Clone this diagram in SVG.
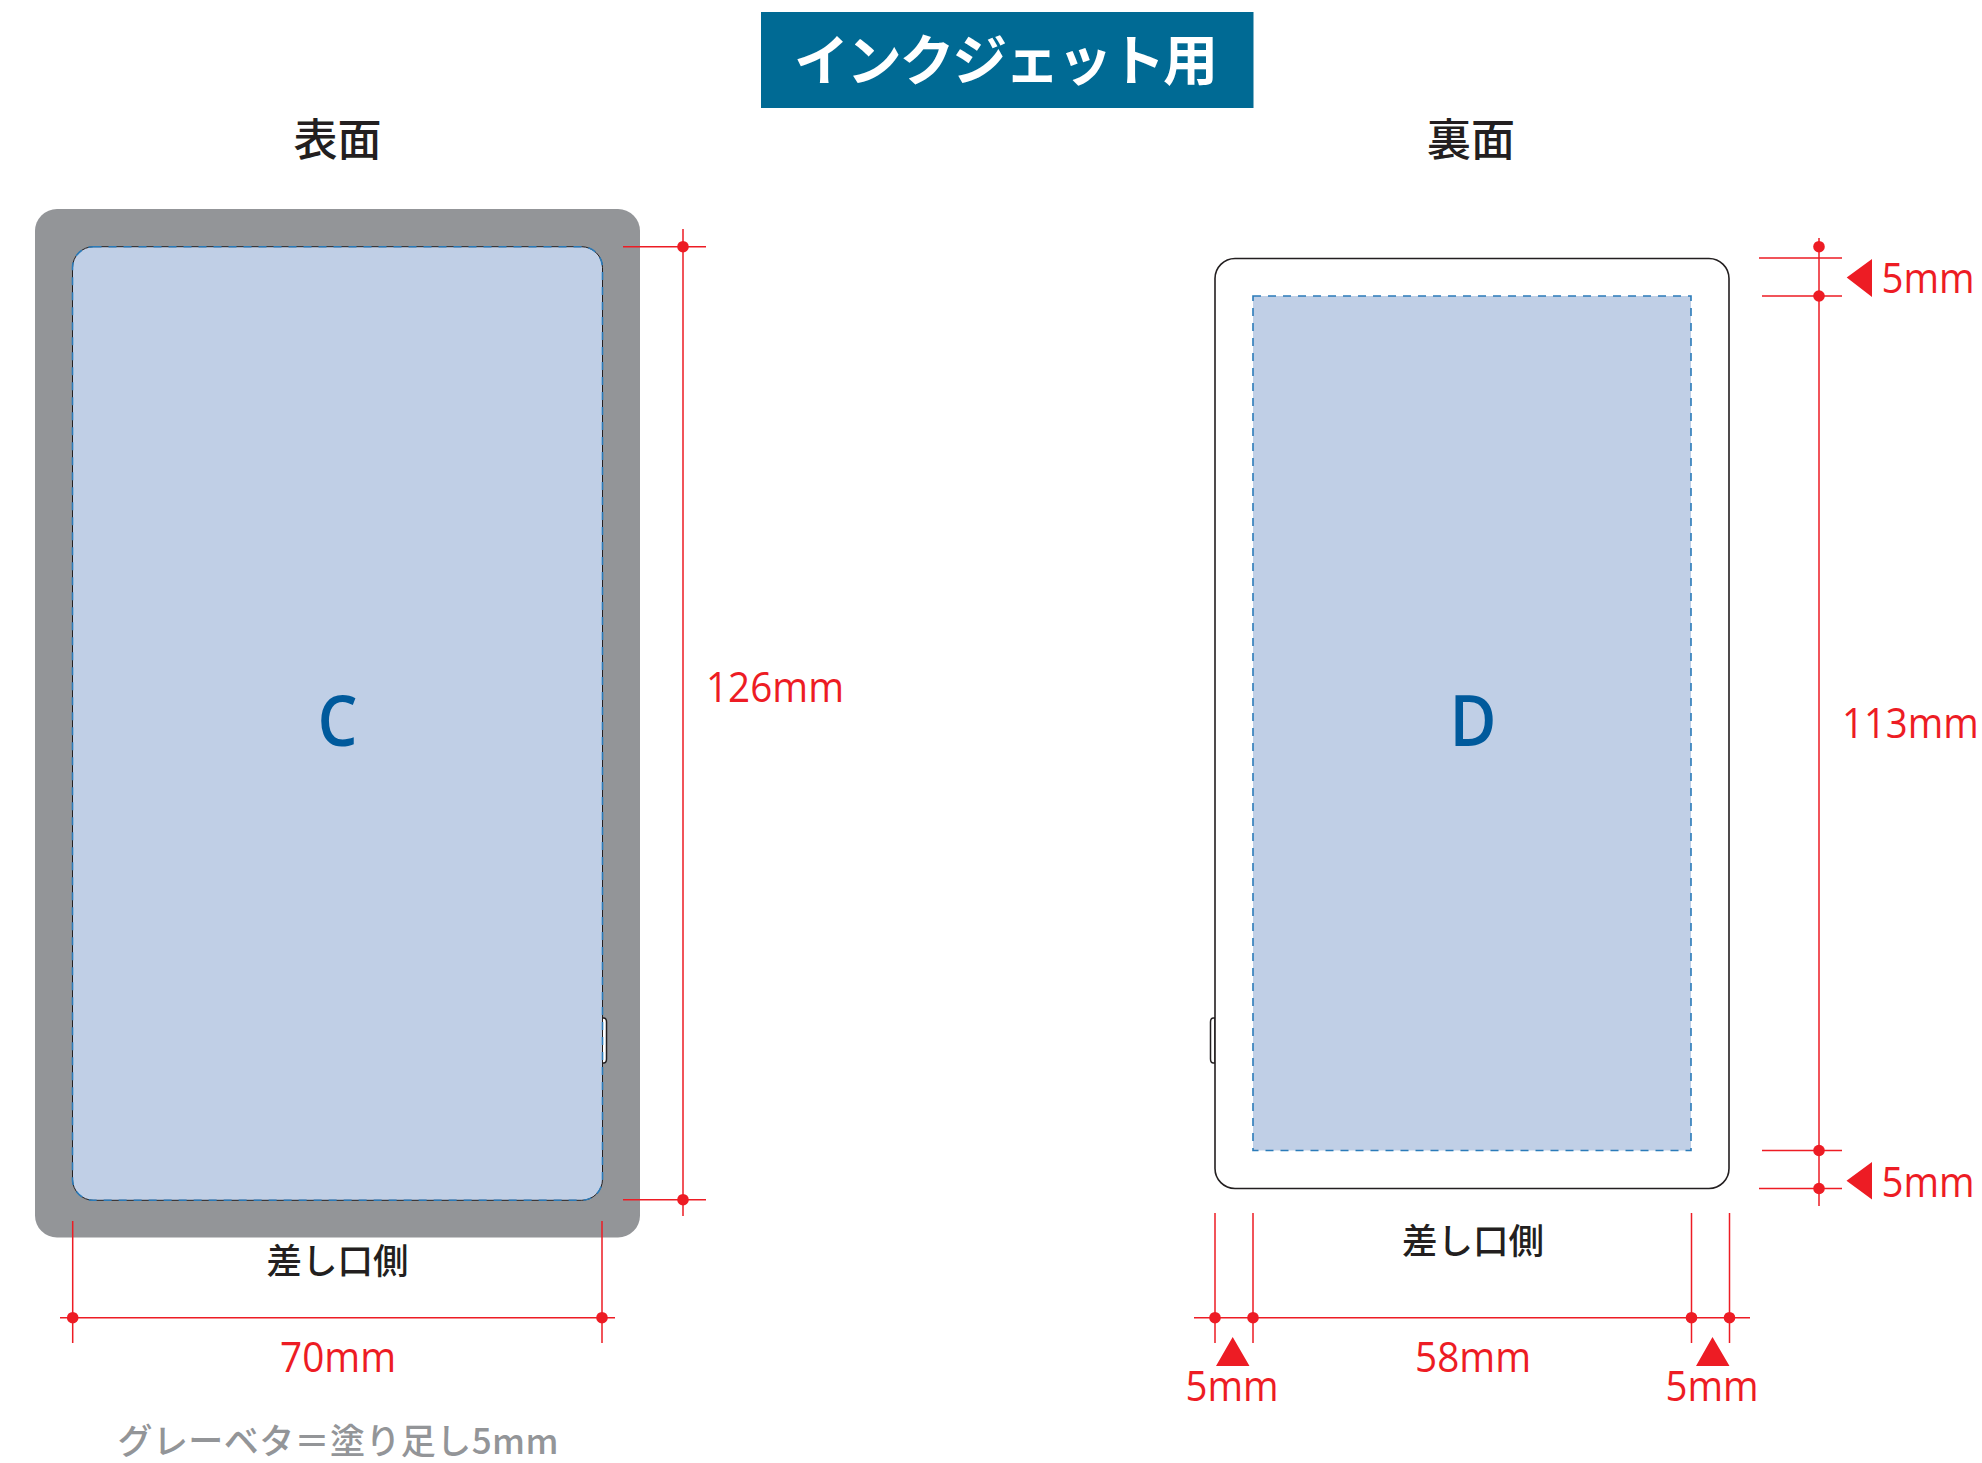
<svg xmlns="http://www.w3.org/2000/svg" width="1982" height="1463" viewBox="0 0 1982 1463">
<style>
.jp{font-family:"Noto Sans CJK JP","Noto Sans",sans-serif;font-weight:500;fill:#231f20;text-anchor:middle}
.dim{font-family:"Open Sans","Liberation Sans",sans-serif;font-size:42px;fill:#ed1c24}
.big{font-family:"Open Sans","Liberation Sans",sans-serif;font-size:70px;font-weight:600;fill:#005a9c;text-anchor:middle}
.ln{stroke:#ed1c24;stroke-width:1.5;fill:none}
.dot{fill:#ed1c24}
.tri{fill:#ed1c24}
.area{fill:#c0cfe6}
.dash{fill:none;stroke:#2b7bb9;stroke-width:1.6;stroke-dasharray:8 7}
</style>
<g id="title">
<rect x="761" y="12" width="492.500" height="96" fill="#006a94"/>
<text x="1006" y="80" text-anchor="middle" font-family="'Noto Sans CJK JP',sans-serif" font-weight="700" font-size="55" fill="#fff" textLength="424" lengthAdjust="spacing">インクジェット用</text>
</g>
<g id="front">
<text class="jp" x="337.500" y="155.500" font-size="44">表面</text>
<rect x="35" y="209" width="605" height="1028.500" rx="22" fill="#939598"/>
<path d="M602 1018h1.500q3 0 3 4v37q0 4-3 4h-1.500z" fill="#fff" stroke="#231f20" stroke-width="1.500"/>
<rect class="area" x="72.500" y="246.700" width="530" height="953.600" rx="21" stroke="#231f20" stroke-width="1"/>
<rect class="dash" x="72.500" y="246.700" width="530" height="953.600" rx="21"/>
<text class="big" x="337.500" y="746" textLength="40" lengthAdjust="spacingAndGlyphs">C</text>
<text class="jp" x="337.500" y="1274" font-size="35.500">差し口側</text>
<text x="338" y="1454" text-anchor="middle" font-family="'Noto Sans CJK JP',sans-serif" font-weight="500" font-size="35" fill="#939598" textLength="441" lengthAdjust="spacing">グレーベタ＝塗り足し5mm</text>
</g>
<g id="back">
<text class="jp" x="1471" y="155.500" font-size="44">裏面</text>
<path d="M1215 1018h-1.500q-3 0-3 4v37q0 4 3 4h1.500z" fill="#fff" stroke="#231f20" stroke-width="1.500"/>
<rect x="1215" y="258.500" width="514" height="930" rx="20" fill="#fff" stroke="#231f20" stroke-width="1.600"/>
<rect class="area" x="1253" y="296" width="438" height="854.500"/>
<rect class="dash" x="1253" y="296" width="438" height="854.500"/>
<text class="big" x="1473" y="746" textLength="47" lengthAdjust="spacingAndGlyphs">D</text>
<text class="jp" x="1473" y="1254" font-size="35.500">差し口側</text>
</g>
<g id="connectors">
<path class="ln" d="M683 229V1216M623 246.700H706M623 1199.700H706"/>
<path class="ln" d="M72.700 1221V1343M602 1221V1343M60 1317.700H615"/>
<path class="ln" d="M1819 238V1206M1759 258H1842M1762 296H1842M1762 1150.500H1842M1759 1188.500H1842"/>
<path class="ln" d="M1215 1213V1343M1253 1213V1343M1691.500 1213V1343M1729.500 1213V1343M1194 1317.700H1750"/>
<g class="dot">
<circle cx="683" cy="246.700" r="5.800"/><circle cx="683" cy="1199.700" r="5.800"/>
<circle cx="72.700" cy="1317.700" r="5.800"/><circle cx="602" cy="1317.700" r="5.800"/>
<circle cx="1819" cy="246.700" r="5.800"/><circle cx="1819" cy="296" r="5.800"/><circle cx="1819" cy="1150.500" r="5.800"/><circle cx="1819" cy="1188.500" r="5.800"/>
<circle cx="1215" cy="1317.700" r="5.800"/><circle cx="1253" cy="1317.700" r="5.800"/><circle cx="1691.500" cy="1317.700" r="5.800"/><circle cx="1729.500" cy="1317.700" r="5.800"/>
</g>
<path class="tri" d="M1846.700 277.500L1872 259V297ZM1846.500 1180.700L1872 1162V1199.500ZM1232.700 1337L1216 1366H1249.500ZM1712.500 1337L1696 1366H1729.500Z"/>
</g>
<g id="labels">
<text class="dim" x="706" y="702" textLength="138" lengthAdjust="spacingAndGlyphs">126mm</text>
<text class="dim" x="280" y="1371.700" textLength="116" lengthAdjust="spacingAndGlyphs">70mm</text>
<text class="dim" transform="translate(1842 738.300) scale(.913 1)">113mm</text>
<text class="dim" x="1415" y="1371.700" textLength="116" lengthAdjust="spacingAndGlyphs">58mm</text>
<text class="dim" x="1881.500" y="293.200" textLength="93" lengthAdjust="spacingAndGlyphs">5mm</text>
<text class="dim" x="1881.500" y="1196.500" textLength="93" lengthAdjust="spacingAndGlyphs">5mm</text>
<text class="dim" x="1185.500" y="1401" textLength="93" lengthAdjust="spacingAndGlyphs">5mm</text>
<text class="dim" x="1665.500" y="1401" textLength="93" lengthAdjust="spacingAndGlyphs">5mm</text>
</g>
</svg>
